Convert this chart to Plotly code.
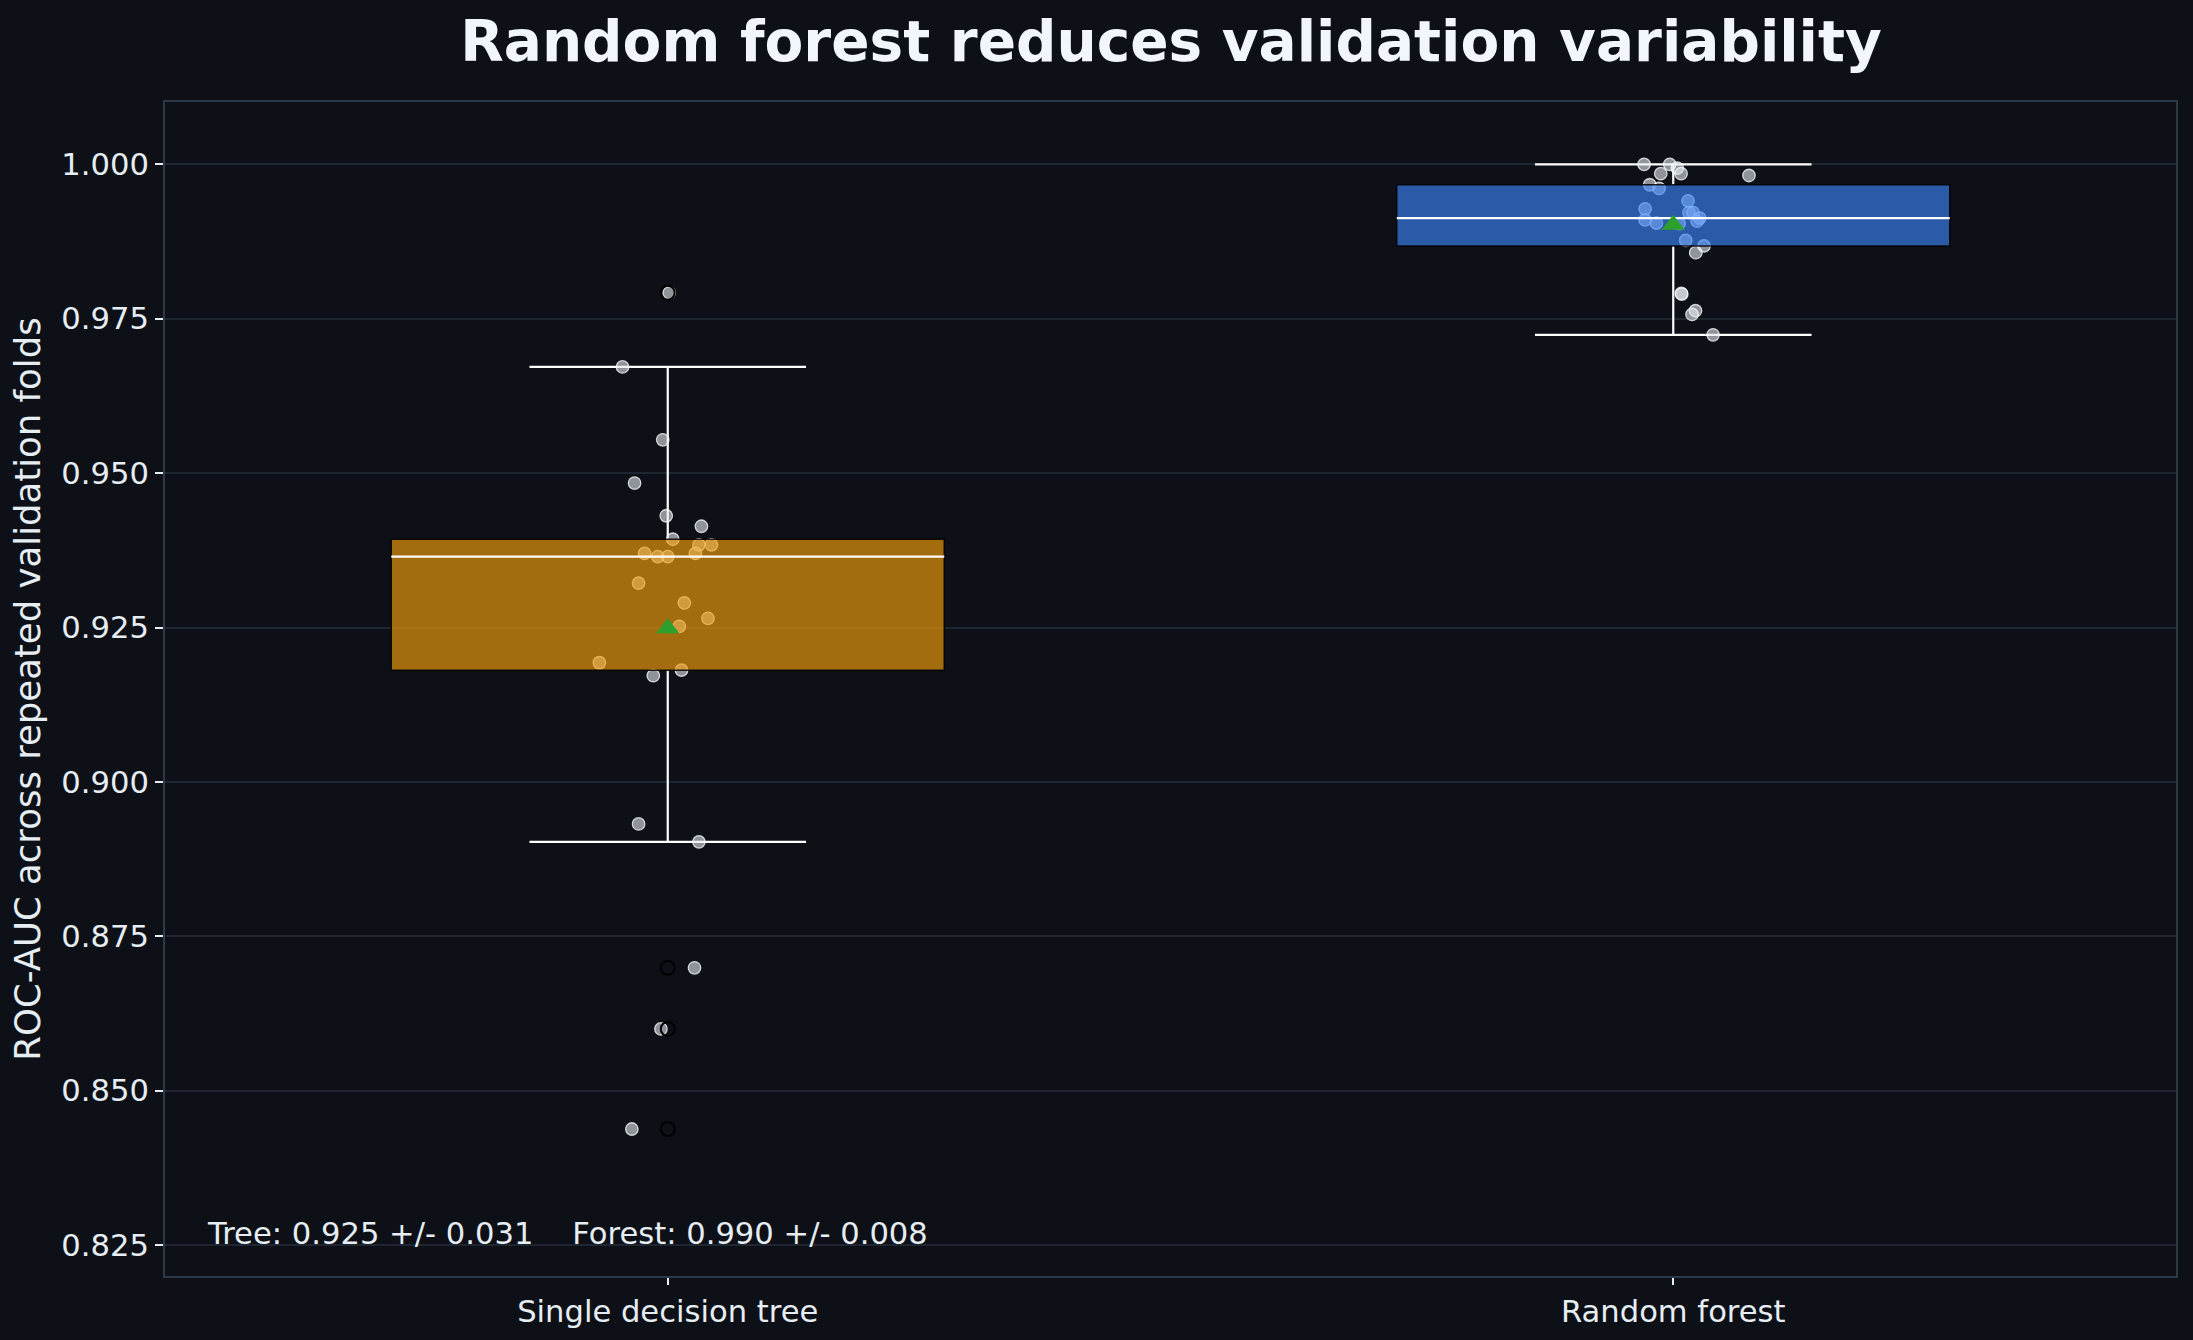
import numpy as np
import plotly.graph_objects as go

# ROC-AUC per repeated validation fold
tree_auc = [0.9792, 0.9672, 0.9554, 0.9484, 0.9431, 0.9414, 0.9393, 0.9384, 0.9384, 0.9370,
            0.9365, 0.9365, 0.9370, 0.9322, 0.9290, 0.9265, 0.9252, 0.9193, 0.9181, 0.9172,
            0.8932, 0.8903, 0.8699, 0.8600, 0.8438]
tree_jitter = [0.0015, -0.045, -0.005, -0.033, -0.0015, 0.0335, 0.005, 0.031, 0.0435, -0.023,
               -0.010, 0.000, 0.0275, -0.029, 0.0165, 0.040, 0.0115, -0.068, 0.0137, -0.0144,
               -0.029, 0.031, 0.0266, -0.0068, -0.0357]

forest_auc = [1.0000, 1.0000, 0.9994, 0.9985, 0.9985, 0.9982, 0.9967, 0.9961, 0.9941, 0.9928,
              0.9922, 0.9922, 0.9913, 0.9910, 0.9905, 0.9904, 0.9908, 0.9877, 0.9868, 0.9857,
              0.9791, 0.9790, 0.9763, 0.9757, 0.9724]
forest_jitter = [-0.029, -0.0035, 0.004, -0.0124, 0.0078, 0.0753, -0.0234, -0.0141, 0.0147, -0.028,
                 0.0157, 0.0197, 0.0263, -0.028, -0.0167, 0.0058, 0.0237, 0.0124, 0.0306, 0.0224,
                 0.0080, 0.0085, 0.0221, 0.0187, 0.0396]

models = ['Single decision tree', 'Random forest']
positions = [1, 2]
box_colors = ['rgba(245,158,11,0.65)', 'rgba(59,130,246,0.65)']
summary_text = 'Tree: 0.925 +/- 0.031    Forest: 0.990 +/- 0.008'

BG = '#0d1117'
TEXT = '#e6edf3'
FONT = 'DejaVu Sans'
BOX_W = 0.55


def box_stats(vals):
    v = np.array(vals)
    q1, med, q3 = np.percentile(v, [25, 50, 75])
    iqr = q3 - q1
    lo = v[v >= q1 - 1.5 * iqr].min()
    hi = v[v <= q3 + 1.5 * iqr].max()
    fliers = v[(v < lo) | (v > hi)]
    return q1, med, q3, lo, hi, fliers, v.mean()


fig = go.Figure()

for pos, vals, jit, col in zip(positions, [tree_auc, forest_auc], [tree_jitter, forest_jitter], box_colors):
    q1, med, q3, lo, hi, fliers, mean = box_stats(vals)
    cw = BOX_W / 4

    # whiskers + caps
    fig.add_trace(go.Scatter(
        x=[pos, pos, None, pos, pos, None, pos - cw, pos + cw, None, pos - cw, pos + cw],
        y=[q1, lo, None, q3, hi, None, lo, lo, None, hi, hi],
        mode='lines', line=dict(color='white', width=2.2), hoverinfo='skip', showlegend=False))

    # fold scores
    fig.add_trace(go.Scatter(
        x=[pos + j for j in jit], y=vals, mode='markers', showlegend=False,
        marker=dict(size=12.5, color='rgba(230,237,243,0.6)',
                    line=dict(color='rgba(255,255,255,0.75)', width=1.3))))

    # box body
    fig.add_trace(go.Scatter(
        x=[pos - BOX_W / 2, pos + BOX_W / 2, pos + BOX_W / 2, pos - BOX_W / 2, pos - BOX_W / 2],
        y=[q1, q1, q3, q3, q1], mode='lines', fill='toself', fillcolor=col,
        line=dict(color='rgba(0,0,0,0.85)', width=1.5), hoverinfo='skip', showlegend=False))

    # median
    fig.add_trace(go.Scatter(
        x=[pos - BOX_W / 2, pos + BOX_W / 2], y=[med, med], mode='lines',
        line=dict(color='white', width=2.2), hoverinfo='skip', showlegend=False))

    # outliers
    if len(fliers):
        fig.add_trace(go.Scatter(
            x=[pos] * len(fliers), y=fliers, mode='markers', showlegend=False,
            marker=dict(symbol='circle-open', size=14, color='black', line=dict(color='black', width=2))))

    # mean
    fig.add_trace(go.Scatter(
        x=[pos], y=[mean], mode='markers', showlegend=False,
        marker=dict(symbol='triangle-up', size=20, color='#2ca02c', line=dict(width=0))))

fig.add_annotation(text=summary_text, xref='x domain', yref='y domain', x=0.02, y=0.02,
                   xanchor='left', yanchor='bottom', showarrow=False,
                   font=dict(family=FONT, size=30.6, color=TEXT))

fig.update_layout(
    width=2193, height=1340,
    margin=dict(l=165, r=17, t=102, b=64),
    paper_bgcolor=BG, plot_bgcolor=BG,
    font=dict(family=FONT, color=TEXT),
    title=dict(text='Random forest reduces validation variability', x=0.534, xanchor='center',
               y=0.9695, yanchor='middle', yref='container',
               font=dict(family=FONT, size=56.5, color='#f0f6fc', weight='bold')),
    showlegend=False,
)
fig.update_xaxes(range=[0.5, 2.5], tickvals=positions, ticktext=models, showgrid=False, zeroline=False,
                 showline=True, linecolor='#2e3947', linewidth=2, mirror=True,
                 ticks='outside', ticklen=7, tickwidth=1.5, tickcolor=TEXT,
                 tickfont=dict(family=FONT, size=30.6, color=TEXT))
fig.update_yaxes(range=[0.8200, 1.0101], tick0=0.825, dtick=0.025, tickformat='.3f',
                 showgrid=True, gridcolor='#1f2632', gridwidth=1.5, zeroline=False,
                 showline=True, linecolor='#2e3947', linewidth=2, mirror=True,
                 ticks='outside', ticklen=8, tickwidth=1.5, tickcolor=TEXT,
                 tickfont=dict(family=FONT, size=30.6, color=TEXT),
                 title=dict(text='ROC-AUC across repeated validation folds', standoff=10,
                            font=dict(family=FONT, size=35.5, color=TEXT)))

# page has a default body margin; drop it so the figure sits at the window origin
fig.write_html("out.html", config={'displayModeBar': False},
               post_script="document.body.style.margin='0';document.body.style.background='%s';" % BG)
